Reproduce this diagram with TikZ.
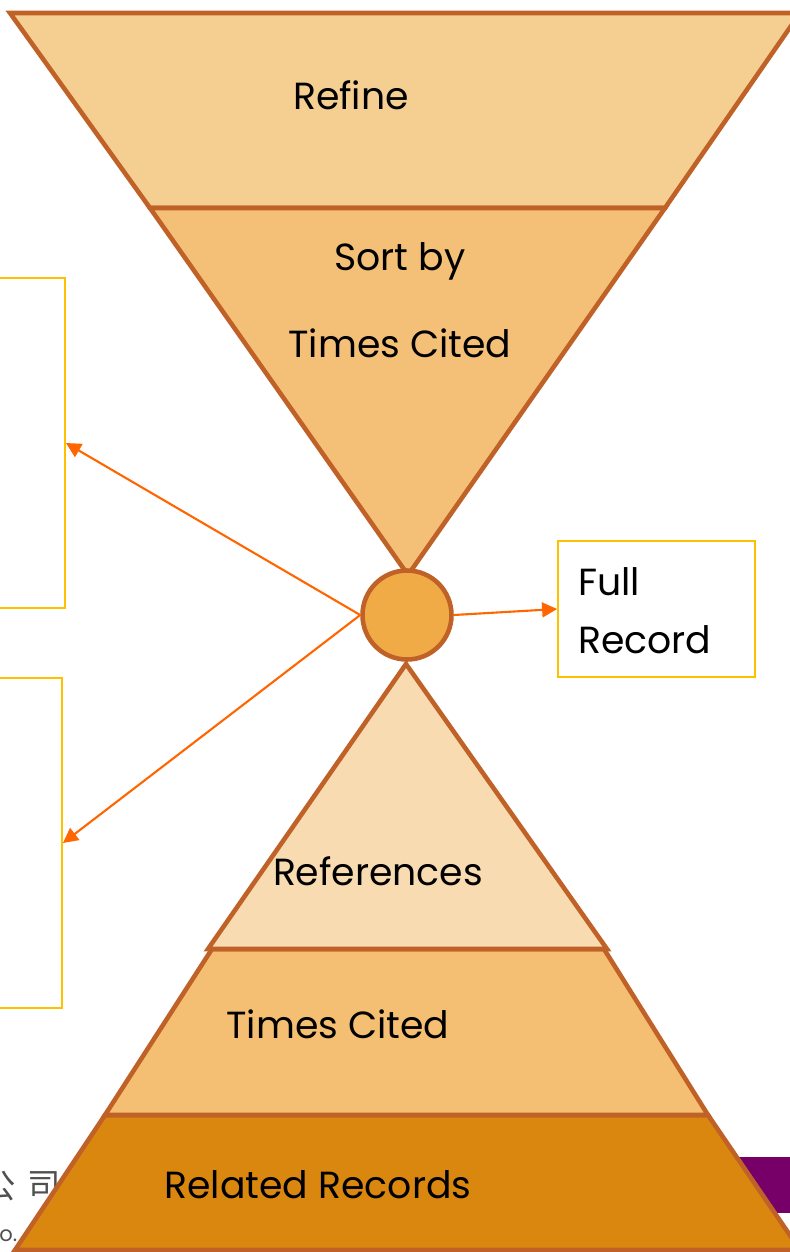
\documentclass[tikz,border=0pt]{standalone}
\usepackage{fontspec}
\setmainfont{Poppins}
\newfontfamily\cjk{Noto Sans CJK SC}
\usetikzlibrary{arrows.meta}
\definecolor{edgebrown}{RGB}{192,98,40}
\definecolor{refinefill}{RGB}{245,206,146}
\definecolor{sortfill}{RGB}{244,192,119}
\definecolor{hubfill}{RGB}{240,171,71}
\definecolor{reffill}{RGB}{248,219,176}
\definecolor{citedfill}{RGB}{244,191,114}
\definecolor{relfill}{RGB}{218,135,15}
\definecolor{arroworange}{RGB}{255,102,0}
\definecolor{boxgold}{RGB}{255,192,0}
\definecolor{slidepurple}{RGB}{118,0,104}
\definecolor{slidegray}{RGB}{80,80,80}
\tikzset{
  layer/.style={draw=edgebrown, line width=2.6pt, line join=miter},
  label/.style={font=\fontsize{21.5}{26}\selectfont, text=black, inner sep=0pt, anchor=base},
  infobox/.style={draw=boxgold, line width=1.1pt, fill=white, inner sep=0pt},
  link/.style={draw=arroworange, line width=1.2pt, -{Triangle[length=8.5pt,width=8.5pt]}},
}
\begin{document}
\begin{tikzpicture}[x=0.02cm,y=-0.02cm]
\clip (0,0) rectangle (790,1252);
\fill[white] (0,0) rectangle (790,1252);
% remnants of the slide behind
\fill[slidepurple] (600,1157) rectangle (800,1213);
\node[font=\cjk\fontsize{19}{19}\selectfont, text=slidegray, inner sep=0pt] (cj1) at (-1,1186) {公};
\node[font=\cjk\fontsize{19}{19}\selectfont, text=slidegray, inner sep=0pt] (cj2) at (44,1186) {司};
\node[font=\fontsize{12}{12}\selectfont, text=slidegray, inner sep=0pt, anchor=base west] (co) at (-1,1241) {o.};
% upper funnel
\path[layer, fill=refinefill] (10,13) -- (800,13) -- (665,208) -- (150,208) -- cycle;
\path[layer, fill=sortfill] (150,208) -- (665,208) -- (408,575) -- cycle;
% lower pyramid
\path[layer, fill=relfill] (105,1115) -- (708,1115) -- (800,1250) -- (15,1250) -- cycle;
\path[layer, fill=citedfill] (212,949) -- (604,949) -- (708,1115) -- (105,1115) -- cycle;
\path[layer, fill=reffill] (406,664) -- (607,949) -- (208,949) -- cycle;
% hub
\node[circle, draw=edgebrown, line width=2.6pt, fill=hubfill, minimum size=1.78cm, inner sep=0pt] (hub) at (407,615) {};
% labels
\node[label] (refine) at (351,109) {Refine};
\node[label] (sortby) at (400,270) {Sort by};
\node[label] (tcsort) at (400,357) {Times Cited};
\node[label] (refs) at (378,885) {References};
\node[label] (tcited) at (338,1038) {Times Cited};
\node[label] (related) at (318,1198) {Related Records};
% boxes
\node[infobox, minimum width=1.7cm, minimum height=6.6cm] (box1) at (22.5,443) {};
\node[infobox, minimum width=1.64cm, minimum height=6.6cm] (box2) at (21,843) {};
\node[infobox, minimum width=3.94cm, minimum height=2.72cm] (full) at (656.5,609) {};
\node[label, anchor=base west] (full1) at (578,595) {Full};
\node[label, anchor=base west] (full2) at (578,653) {Record};
% connectors
\draw[link] (hub.west) -- (box1.east);
\draw[link] (hub.west) -- (box2.east);
\draw[link] (hub.east) -- (full.west);
\end{tikzpicture}
\end{document}
